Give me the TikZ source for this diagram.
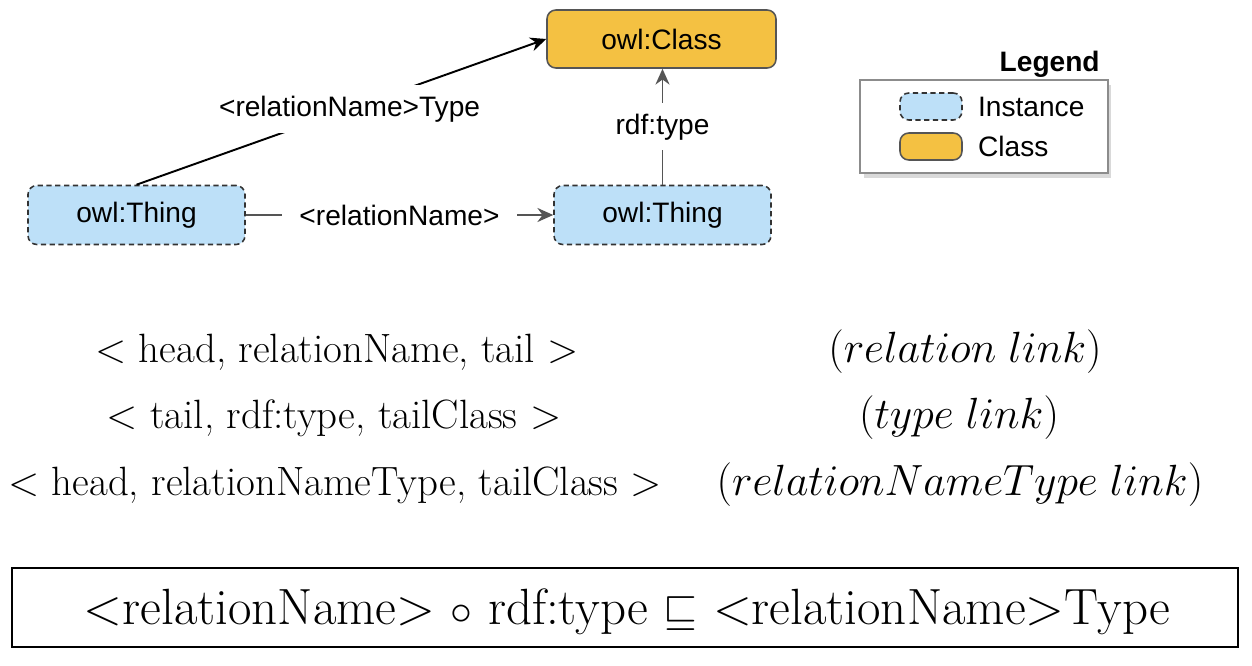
\documentclass[tikz,border=0pt]{standalone}
\usepackage{fontspec}
\usepackage{amsmath}
\usepackage{amssymb}
\usepackage{tikz}
\usetikzlibrary{arrows.meta}
\usetikzlibrary{positioning}
\usetikzlibrary{shadows}
\newfontfamily\diagfont{Liberation Sans}
\definecolor{mblue}{HTML}{BDE0F8}
\definecolor{morange}{HTML}{F4C142}
\definecolor{mgray}{HTML}{555555}

\tikzset{
  inst/.style={draw=black!80, line width=0.9pt, dash pattern=on 3pt off 2pt, fill=mblue,
    rounded corners=5pt, inner sep=0pt, font=\diagfont\fontsize{16}{19}\selectfont},
  cls/.style={draw=mgray, line width=0.9pt, fill=morange, rounded corners=5pt,
    inner sep=0pt, font=\diagfont\fontsize{16}{19}\selectfont},
  elabel/.style={fill=white, text=black, inner xsep=10pt, inner ysep=6pt, font=\diagfont\fontsize{16}{19}\selectfont},
  link/.style={line width=1.1pt, -{Stealth[length=9pt,width=8pt]}},
  tripletxt/.style={anchor=base, inner sep=0pt, font=\fontsize{23.3}{27}\selectfont},
  kindtxt/.style={anchor=base, inner sep=0pt, font=\fontsize{23}{27}\selectfont}
}

\begin{document}
\begin{tikzpicture}[x=0.02cm, y=-0.02cm]
      \useasboundingbox (0, 0) rectangle (1252, 666);

      % graph part
      \node [cls, minimum width=4.58cm, minimum height=1.16cm] (owlcls) at (661.5, 39) {owl:Class};
      \node [inst, minimum width=4.34cm, minimum height=1.18cm] (thingA) at (136.5, 215) {owl:Thing};
      \node [inst, minimum width=4.34cm, minimum height=1.18cm] (thingB) at (662.5, 215) {owl:Thing};

      \draw [link, black] (thingA.north) -- (owlcls.west) node [elabel, pos=0.52] {<relationName>Type};
      \draw [link, mgray] (thingB.north) -- (thingB.north |- owlcls.south) node [elabel, pos=0.5] {rdf:type};
      \draw [link, mgray] (thingA.east) -- (thingB.west) node [elabel, pos=0.5] {<relationName>};

      % legend
      \node [draw=black!45, line width=1pt, fill=white, minimum width=4.96cm, minimum height=1.86cm,
        drop shadow={shadow xshift=2pt, shadow yshift=-3pt, opacity=0.3}] (legend) at (984, 126.5) {};
      \node [font=\diagfont\bfseries\fontsize{16}{19}\selectfont, anchor=south east, inner sep=0pt] (legtitle)
        at (1100, 78) {Legend};
      \node [inst, minimum width=1.24cm, minimum height=0.54cm] (leginst) at (931, 106.5) {};
      \node [cls, minimum width=1.24cm, minimum height=0.54cm] (legcls) at (931, 146.5) {};
      \node [right=0.3cm of leginst, inner sep=0pt, font=\diagfont\fontsize{16}{19}\selectfont] {Instance};
      \node [right=0.3cm of legcls, inner sep=0pt, font=\diagfont\fontsize{16}{19}\selectfont] {Class};

      % triples
      \node [tripletxt] (triple1) at (337, 362) {< head, relationName, tail >};
      \node [tripletxt] (triple2) at (334, 428) {< tail, rdf:type, tailClass >};
      \node [tripletxt] (triple3) at (335, 495) {< head, relationNameType, tailClass >};

      \node [kindtxt] (kind1) at (965, 362) {$(relation\ link)$};
      \node [kindtxt] (kind2) at (959, 428) {$(type\ link)$};
      \node [kindtxt] (kind3) at (960, 495) {$(relationNameType\ link)$};

      % axiom
      \draw [line width=1.1pt] (12, 568) rectangle (1238, 647);
      \node [anchor=base, inner sep=0pt, font=\fontsize{29}{33}\selectfont] (axiom) at (627, 624)
        {\text{<relationName>} $\circ$ rdf:type $\sqsubseteq$ \text{<relationName>Type}};
\end{tikzpicture}
\end{document}
